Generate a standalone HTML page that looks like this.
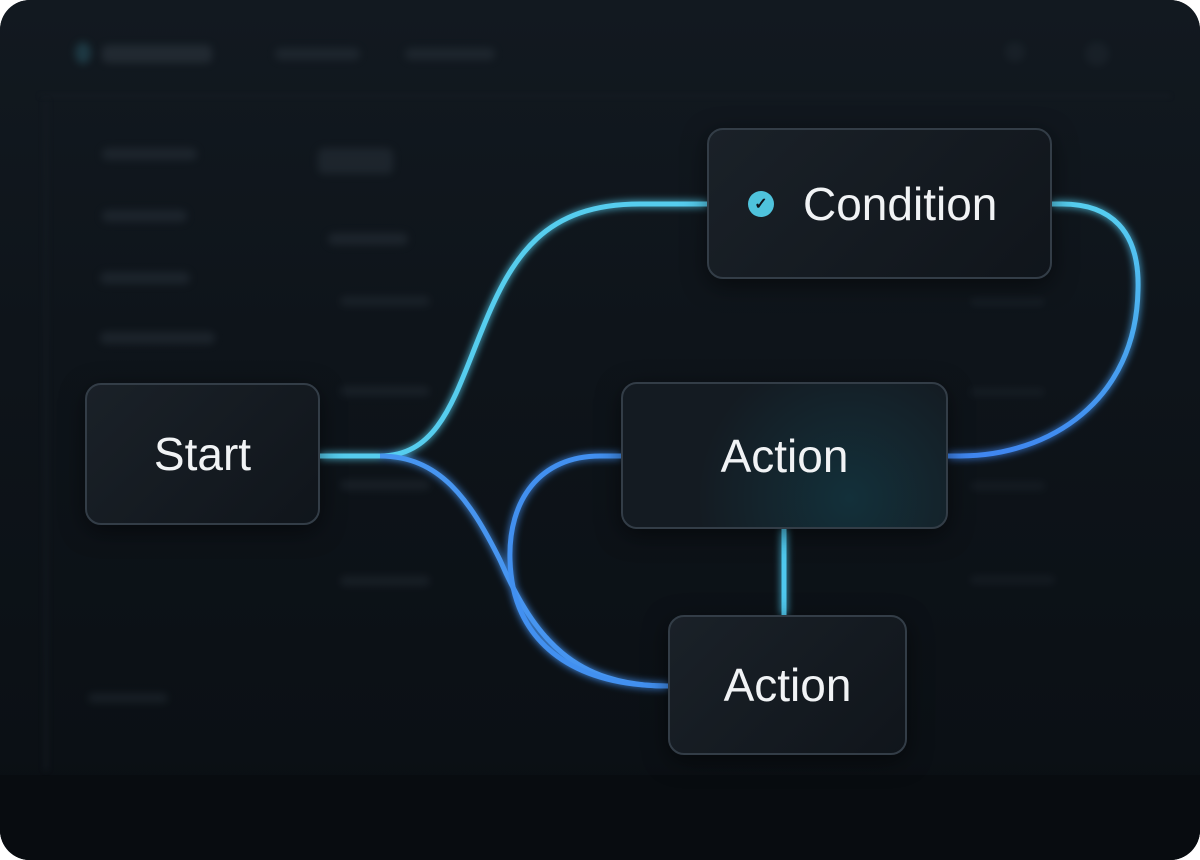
<!DOCTYPE html>
<html><head><meta charset="utf-8"><style>
html,body{margin:0;padding:0;background:#fff;}
#c{position:relative;width:1200px;height:860px;border-radius:30px;overflow:hidden;background:#0d1318;font-family:"Liberation Sans",sans-serif;}
.bg{position:absolute;inset:0;background:linear-gradient(180deg,#121920 0%,#0e141a 40%,#0b1015 88%,#080c10 100%);}
.bl{position:absolute;background:#2a333c;border-radius:6px;filter:blur(4px);opacity:.5}
.node{position:absolute;box-sizing:border-box;border:2px solid #333d47;border-radius:16px;background:linear-gradient(135deg,#1a2128,#10151b);color:#f1f3f5;font-size:46px;display:flex;align-items:center;justify-content:center;box-shadow:0 6px 24px rgba(0,0,0,.5)}
</style></head><body>
<div id="c">
<div class="bg"></div>
<div style="position:absolute;left:0;top:775px;width:1200px;height:85px;background:#080c10"></div>
<div style="position:absolute;left:40px;top:95px;width:1130px;height:2px;background:#161d24;filter:blur(2px)"></div>
<div style="position:absolute;left:45px;top:100px;width:2px;height:670px;background:#161d24;filter:blur(3px)"></div>
<div class="bl" style="left:75px;top:42px;width:16px;height:22px;background:#2a5866;border-radius:50%"></div>
<div class="bl" style="left:102px;top:45px;width:110px;height:18px;background:#323b44"></div>
<div class="bl" style="left:275px;top:48px;width:85px;height:12px"></div>
<div class="bl" style="left:405px;top:48px;width:90px;height:12px"></div>
<div class="bl" style="left:1005px;top:42px;width:20px;height:20px;border-radius:50%;opacity:.3"></div>
<div class="bl" style="left:1085px;top:42px;width:24px;height:24px;border-radius:50%;opacity:.3"></div>
<div class="bl" style="left:102px;top:148px;width:95px;height:12px"></div>
<div class="bl" style="left:102px;top:210px;width:85px;height:12px"></div>
<div class="bl" style="left:100px;top:272px;width:90px;height:12px"></div>
<div class="bl" style="left:100px;top:332px;width:115px;height:12px"></div>
<div class="bl" style="left:88px;top:693px;width:80px;height:10px;opacity:.4"></div>
<div class="bl" style="left:318px;top:148px;width:75px;height:26px;opacity:.5"></div>
<div class="bl" style="left:328px;top:233px;width:80px;height:12px;opacity:.5"></div>
<div class="bl" style="left:340px;top:296px;width:90px;height:10px;opacity:.4"></div>
<div class="bl" style="left:340px;top:386px;width:90px;height:10px;opacity:.4"></div>
<div class="bl" style="left:340px;top:480px;width:90px;height:10px;opacity:.4"></div>
<div class="bl" style="left:340px;top:576px;width:90px;height:10px;opacity:.4"></div>
<div class="bl" style="left:970px;top:298px;width:75px;height:8px;opacity:.3"></div>
<div class="bl" style="left:970px;top:388px;width:75px;height:8px;opacity:.3"></div>
<div class="bl" style="left:970px;top:482px;width:75px;height:8px;opacity:.3"></div>
<div class="bl" style="left:970px;top:576px;width:85px;height:8px;opacity:.3"></div>
<svg width="1200" height="860" style="position:absolute;left:0;top:0">
<defs>
<filter id="g" x="-20%" y="-20%" width="140%" height="140%"><feGaussianBlur stdDeviation="4" result="b"/><feMerge><feMergeNode in="b"/><feMergeNode in="SourceGraphic"/></feMerge></filter>
<linearGradient id="rg" x1="0" y1="0" x2="0" y2="1"><stop offset="0" stop-color="#56cff0"/><stop offset="1" stop-color="#3f86f0"/></linearGradient>
</defs>
<g fill="none" stroke-width="5" filter="url(#g)">
<path d="M320,456 H380 C440,456 455,395 482,330 C512,255 545,204 640,204 H707" stroke="#56cdee"/>
<path d="M380,456 C440,456 470,500 500,560 C535,640 575,686 668,686" stroke="#4795f0"/>
<path d="M621,456 H600 C540,456 508,500 510,560 C512,640 570,686 668,686" stroke="#4290f0"/>
<path d="M1052,204 H1062 C1110,204 1140,230 1138,290 C1136,400 1050,456 960,456 H948" stroke="url(#rg)"/>
<path d="M784,529 V615" stroke="#50c8ee"/>
</g>
</svg>
<div class="node" style="left:85px;top:383px;width:235px;height:142px;">Start</div>
<div class="node" style="left:707px;top:128px;width:345px;height:151px;justify-content:flex-start;padding-left:94px;">Condition
<div style="position:absolute;left:39px;top:61px;width:26px;height:26px;border-radius:50%;background:#4fc3dc;color:#0f151c;font-size:16px;font-weight:bold;display:flex;align-items:center;justify-content:center">✓</div></div>
<div class="node" style="left:621px;top:382px;width:327px;height:147px;background:radial-gradient(circle at 70% 80%,#13303a,#141b22 60%);">Action</div>
<div class="node" style="left:668px;top:615px;width:239px;height:140px;">Action</div>
</div>
</body></html>
